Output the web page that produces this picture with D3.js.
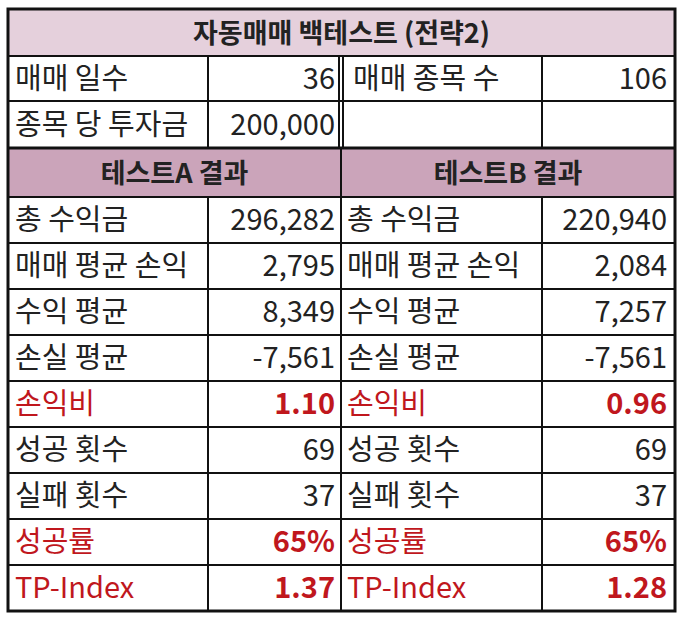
<!DOCTYPE html>
<html><head><meta charset="utf-8">
<script src="https://cdn.jsdelivr.net/npm/d3@7"></script>
<style>body{margin:0;background:#fff}text{font-family:"Noto Sans CJK KR",sans-serif}</style>
</head><body><svg id="chart" width="684" height="622"></svg>
<script>
var title = "자동매매 백테스트 (전략2)"
var infoRows = [["매매 일수", "36", "매매 종목 수", "106"], ["종목 당 투자금", "200,000", "", ""]]
var headers = ["테스트A 결과", "테스트B 결과"]
var labels = ["총 수익금", "매매 평균 손익", "수익 평균", "손실 평균", "손익비", "성공 횟수", "실패 횟수", "성공률", "TP-Index"]
var valuesA = ["296,282", "2,795", "8,349", "-7,561", "1.10", "69", "37", "65%", "1.37"]
var valuesB = ["220,940", "2,084", "7,257", "-7,561", "0.96", "69", "37", "65%", "1.28"]
var highlight = ["손익비", "성공률", "TP-Index"]

var svg = d3.select("#chart")
var L = 8, R = 675, T = 9, B = 611
var xs = [L, 208, 341, 542, R]
// row tops
var rowY = [T, 56, 101, 148, 197]
var y = d3.scaleLinear().domain([0, labels.length]).range([197, B])

function cellText(x, yy, h, s, anchor, color, weight, size) {
  svg.append("text").attr("x", x).attr("y", yy + h / 2 + 10)
    .attr("text-anchor", anchor).attr("font-size", size || 29)
    .attr("fill", color || "#222").attr("font-weight", weight || "normal").text(s)
}

// fills
svg.append("rect").attr("x", L).attr("y", T).attr("width", R - L).attr("height", 47).attr("fill", "#e5d0dc")
svg.append("rect").attr("x", L).attr("y", 148).attr("width", R - L).attr("height", 49).attr("fill", "#cba4ba")

cellText((L + R) / 2, T, 47, title, "middle", "#222", "bold", 27)

infoRows.forEach(function(r, i) {
  var yy = rowY[1 + i], h = rowY[2 + i] - yy
  cellText(xs[0] + 7, yy, h, r[0], "start")
  cellText(xs[2] - 6, yy, h, r[1], "end")
  cellText(xs[2] + 12, yy, h, r[2], "start")
  cellText(xs[4] - 8, yy, h, r[3], "end")
})

headers.forEach(function(s, i) {
  cellText((xs[i * 2] + xs[i * 2 + 2]) / 2, 148, 49, s, "middle", "#222", "bold", 27)
})

labels.forEach(function(lab, i) {
  var yy = y(i), h = y(i + 1) - y(i)
  var hot = highlight.indexOf(lab) >= 0
  var c = hot ? "#c0171d" : "#222"
  cellText(xs[0] + 7, yy, h, lab, "start", c)
  cellText(xs[2] - 6, yy, h, valuesA[i], "end", c, hot ? "bold" : "normal")
  cellText(xs[2] + 6, yy, h, lab, "start", c)
  cellText(xs[4] - 8, yy, h, valuesB[i], "end", c, hot ? "bold" : "normal")
})

// grid lines
function line(x1, y1, x2, y2, w) {
  svg.append("line").attr("x1", x1).attr("y1", y1).attr("x2", x2).attr("y2", y2)
    .attr("stroke", "#111").attr("stroke-width", w || 2)
}
rowY.slice(1).forEach(function(v) { line(L, v, R, v, 2) })
line(L, 148, R, 148, 3)
d3.range(1, labels.length).forEach(function(i) { line(L, y(i), R, y(i), 2) })
line(xs[1], 56, xs[1], 148); line(xs[3], 56, xs[3], 148)
line(xs[2] - 2, 56, xs[2] - 2, 148); line(xs[2] + 2, 56, xs[2] + 2, 148)
line(xs[2], 148, xs[2], B)
line(xs[1], 197, xs[1], B); line(xs[3], 197, xs[3], B)
svg.append("rect").attr("x", L).attr("y", T).attr("width", R - L).attr("height", B - T)
  .attr("fill", "none").attr("stroke", "#111").attr("stroke-width", 3)
</script></body></html>
